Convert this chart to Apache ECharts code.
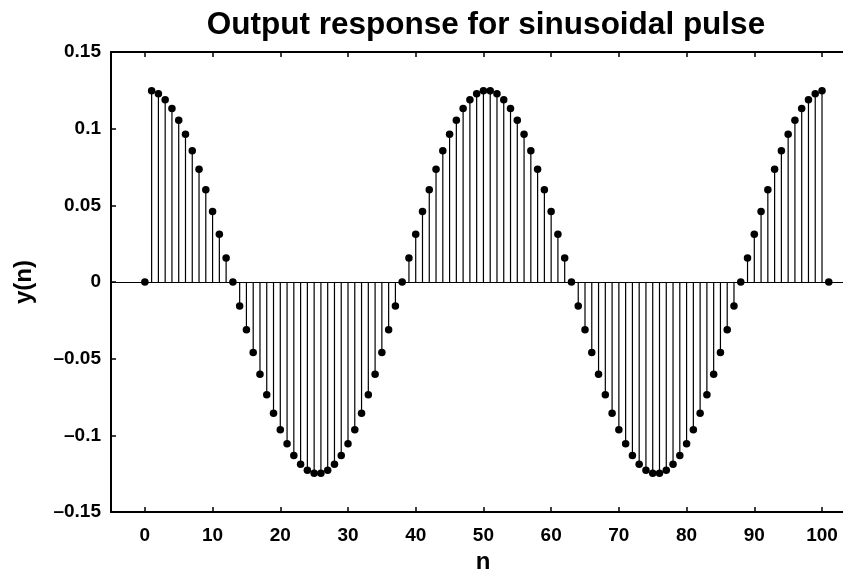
<!DOCTYPE html>
<html>
<head>
<meta charset="utf-8">
<title>Output response for sinusoidal pulse</title>
<script src="https://cdn.jsdelivr.net/npm/echarts@6/dist/echarts.min.js"></script>
<style>
  html, body { margin: 0; padding: 0; background: #fff; }
  #chart { width: 843px; height: 573px; }
</style>
</head>
<body>
<div id="chart"></div>
<script>
// Output samples y(n), n = 0 .. 101
const yValues = [
  0,
  0.1248, 0.1228, 0.1189, 0.1131, 0.1055, 0.0963, 0.0856, 0.0735, 0.0602, 0.0460, 0.0311, 0.0157,
  0,
  -0.0157, -0.0311, -0.0460, -0.0602, -0.0735, -0.0856, -0.0963, -0.1055, -0.1131, -0.1189, -0.1228, -0.1248,
  -0.1248, -0.1228, -0.1189, -0.1131, -0.1055, -0.0963, -0.0856, -0.0735, -0.0602, -0.0460, -0.0311, -0.0157,
  0,
  0.0157, 0.0311, 0.0460, 0.0602, 0.0735, 0.0856, 0.0963, 0.1055, 0.1131, 0.1189, 0.1228, 0.1248,
  0.1248, 0.1228, 0.1189, 0.1131, 0.1055, 0.0963, 0.0856, 0.0735, 0.0602, 0.0460, 0.0311, 0.0157,
  0,
  -0.0157, -0.0311, -0.0460, -0.0602, -0.0735, -0.0856, -0.0963, -0.1055, -0.1131, -0.1189, -0.1228, -0.1248,
  -0.1248, -0.1228, -0.1189, -0.1131, -0.1055, -0.0963, -0.0856, -0.0735, -0.0602, -0.0460, -0.0311, -0.0157,
  0,
  0.0157, 0.0311, 0.0460, 0.0602, 0.0735, 0.0856, 0.0963, 0.1055, 0.1131, 0.1189, 0.1228, 0.1248,
  0
];

// Axis tick positions
const xTicks = [0, 10, 20, 30, 40, 50, 60, 70, 80, 90, 100];
const yTicks = [-0.15, -0.1, -0.05, 0, 0.05, 0.1, 0.15];

const points = yValues.map((y, n) => [n, y]);

const FONT = '"Liberation Sans", Arial, Helvetica, sans-serif';
const fmtY = v => (Math.round(v * 100) / 100).toString().replace('-', '\u2013');

// visible x range: the axes box is cut by the right edge of the canvas
const X_MIN = -5;
const X_MAX = 103.1;

const chart = echarts.init(document.getElementById('chart'), null, { renderer: 'canvas' });

chart.setOption({
  animation: false,
  backgroundColor: '#fff',
  title: {
    text: 'Output response for sinusoidal pulse',
    left: 486,
    textAlign: 'center',
    top: 9,
    padding: 0,
    textStyle: { fontFamily: FONT, fontWeight: 'bold', fontSize: 31.5, color: '#000' }
  },
  grid: { left: 111, right: 0, top: 52, bottom: 61, containLabel: false, outerBoundsMode: 'none' },
  xAxis: [
    {
      type: 'value', position: 'bottom', min: X_MIN, max: X_MAX,
      name: 'n', nameLocation: 'middle', nameGap: 37,
      nameTextStyle: { fontFamily: FONT, fontWeight: 'bold', fontSize: 24, color: '#000', padding: [0, 0, 0, 12] },
      axisLine: { show: true, onZero: false, lineStyle: { color: '#000', width: 2 } },
      axisTick: { show: true, inside: true, length: 5, customValues: xTicks, lineStyle: { color: '#000', width: 1.5 } },
      axisLabel: { customValues: xTicks, margin: 14, fontFamily: FONT, fontWeight: 'bold', fontSize: 19, color: '#000' },
      splitLine: { show: false }
    },
    {
      type: 'value', position: 'top', min: X_MIN, max: X_MAX,
      axisLine: { show: true, onZero: false, lineStyle: { color: '#000', width: 2 } },
      axisTick: { show: true, inside: true, length: 5, customValues: xTicks, lineStyle: { color: '#000', width: 1.5 } },
      axisLabel: { show: false },
      splitLine: { show: false }
    }
  ],
  yAxis: {
    type: 'value', min: -0.15, max: 0.15,
    name: 'y(n)', nameLocation: 'middle', nameGap: 75, nameRotate: 90,
    nameTextStyle: { fontFamily: FONT, fontWeight: 'bold', fontSize: 24, color: '#000' },
    axisLine: { show: true, onZero: false, lineStyle: { color: '#000', width: 2 } },
    axisTick: { show: true, inside: true, length: 5, customValues: yTicks, lineStyle: { color: '#000', width: 1.5 } },
    axisLabel: { customValues: yTicks, margin: 10, formatter: fmtY, fontFamily: FONT, fontWeight: 'bold', fontSize: 19, color: '#000' },
    splitLine: { show: false }
  },
  series: [
    {
      // stems from the zero baseline to each sample
      type: 'custom',
      xAxisIndex: 0,
      data: points,
      clip: true,
      renderItem: (params, api) => {
        const n = api.value(0);
        const base = api.coord([n, 0]);
        const tip = api.coord([n, api.value(1)]);
        return {
          type: 'line',
          shape: { x1: base[0], y1: base[1], x2: tip[0], y2: tip[1] },
          style: { stroke: '#000', lineWidth: 1.2 }
        };
      },
      z: 2
    },
    {
      // sample markers
      type: 'scatter',
      xAxisIndex: 0,
      data: points,
      symbol: 'circle',
      symbolSize: 7.5,
      itemStyle: { color: '#000', opacity: 1 },
      z: 3,
      markLine: {
        silent: true,
        symbol: 'none',
        label: { show: false },
        lineStyle: { color: '#000', width: 1, type: 'solid' },
        data: [{ yAxis: 0 }]
      }
    }
  ]
});
</script>
</body>
</html>
